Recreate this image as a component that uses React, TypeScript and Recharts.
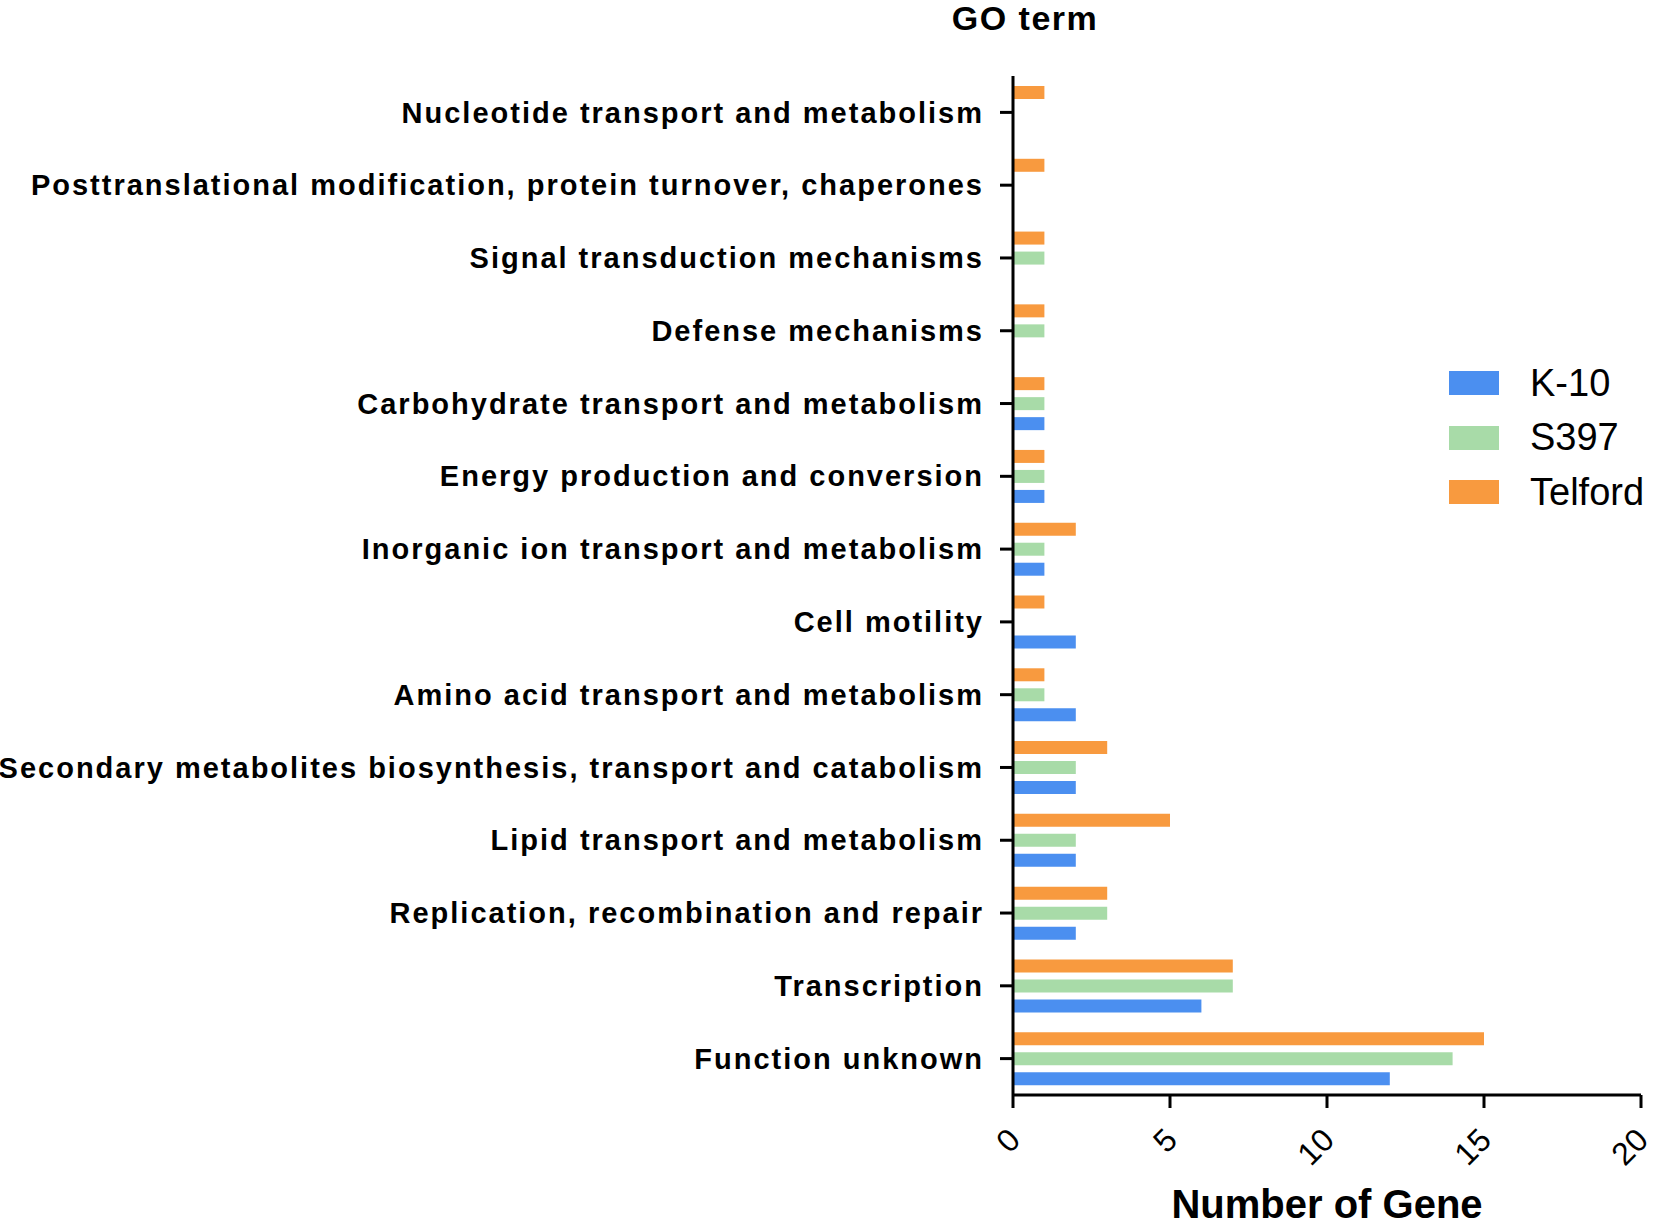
import React from "react";
import { BarChart, Bar, XAxis, YAxis, Label } from "recharts";

// GO term categories, top to bottom
const categories = [
  "Nucleotide transport and metabolism",
  "Posttranslational modification, protein turnover, chaperones",
  "Signal transduction mechanisms",
  "Defense mechanisms",
  "Carbohydrate transport and metabolism",
  "Energy production and conversion",
  "Inorganic ion transport and metabolism",
  "Cell motility",
  "Amino acid transport and metabolism",
  "Secondary metabolites biosynthesis, transport and catabolism",
  "Lipid transport and metabolism",
  "Replication, recombination and repair",
  "Transcription",
  "Function unknown",
];

const k10 = [0, 0, 0, 0, 1, 1, 1, 2, 2, 2, 2, 2, 6, 12];
const s397 = [0, 0, 1, 1, 1, 1, 1, 0, 1, 2, 2, 3, 7, 14];
const telford = [1, 1, 1, 1, 1, 1, 2, 1, 1, 3, 5, 3, 7, 15];

const xTicks = [0, 5, 10, 15, 20];

const series = [
  { key: "k10", name: "K-10", color: "#4b8ff0" },
  { key: "s397", name: "S397", color: "#a8dba8" },
  { key: "telford", name: "Telford", color: "#f89a3f" },
];

const FONT = '"Liberation Sans", Arial, Helvetica, sans-serif';

const data = categories.map((c, i) => ({
  term: c,
  k10: k10[i],
  s397: s397[i],
  telford: telford[i],
}));

function YTick(props: any) {
  const { x, y, payload } = props;
  return (
    <text
      x={x}
      y={y}
      dy="0.35em"
      textAnchor="end"
      fontFamily={FONT}
      fontSize={29}
      fontWeight={700}
      letterSpacing={2}
      fill="#000"
    >
      {payload.value}
    </text>
  );
}

function XTick(props: any) {
  const { x, y, payload } = props;
  return (
    <g transform={`translate(${x + 9},${y + 34})`}>
      <text
        textAnchor="end"
        transform="rotate(-45)"
        fontFamily={FONT}
        fontSize={32}
        fill="#000"
      >
        {payload.value}
      </text>
    </g>
  );
}

function LegendBox() {
  return (
    <div
      style={{
        position: "absolute",
        left: 1449,
        top: 356,
        fontFamily: FONT,
      }}
    >
      {series.map((s) => (
        <div
          key={s.key}
          style={{ display: "flex", alignItems: "center", height: 54.5 }}
        >
          <div style={{ width: 50, height: 24, background: s.color }} />
          <span style={{ marginLeft: 31, fontSize: 38, color: "#000" }}>
            {s.name}
          </span>
        </div>
      ))}
    </div>
  );
}

export default function App() {
  // bars listed top-to-bottom inside each band
  const barOrder = [series[2], series[1], series[0]];
  return (
    <div
      style={{
        position: "absolute",
        left: 0,
        top: 0,
        width: 1655,
        height: 1227,
        background: "#fff",
        overflow: "hidden",
      }}
    >
      <div
        style={{
          position: "absolute",
          left: 925,
          width: 200,
          top: 1,
          lineHeight: "34px",
          textAlign: "center",
          fontFamily: FONT,
          fontWeight: 700,
          fontSize: 34,
          letterSpacing: 1.5,
        }}
      >
        GO term
      </div>
      <BarChart
        width={1655}
        height={1227}
        data={data}
        layout="vertical"
        margin={{ top: 76, right: 14, bottom: 0, left: 0 }}
        barGap={7}
        barSize={13}
      >
        <XAxis
          type="number"
          domain={[0, 20]}
          ticks={xTicks}
          interval={0}
          height={132}
          axisLine={{ stroke: "#000", strokeWidth: 3 }}
          tickLine={{ stroke: "#000", strokeWidth: 3 }}
          tickSize={13}
          tickMargin={0}
          tick={<XTick />}
        >
          <Label
            value="Number of Gene"
            position="insideBottom"
            offset={9}
            style={{
              fontFamily: FONT,
              fontWeight: 700,
              fontSize: 40,
              fill: "#000",
            }}
          />
        </XAxis>
        <YAxis
          type="category"
          dataKey="term"
          width={1013}
          interval={0}
          axisLine={{ stroke: "#000", strokeWidth: 3 }}
          tickLine={{ stroke: "#000", strokeWidth: 3 }}
          tickSize={13}
          tickMargin={16}
          tick={<YTick />}
        />
        {barOrder.map((s) => (
          <Bar
            key={s.key}
            dataKey={s.key}
            name={s.name}
            fill={s.color}
            isAnimationActive={false}
          />
        ))}
      </BarChart>
      <LegendBox />
    </div>
  );
}
